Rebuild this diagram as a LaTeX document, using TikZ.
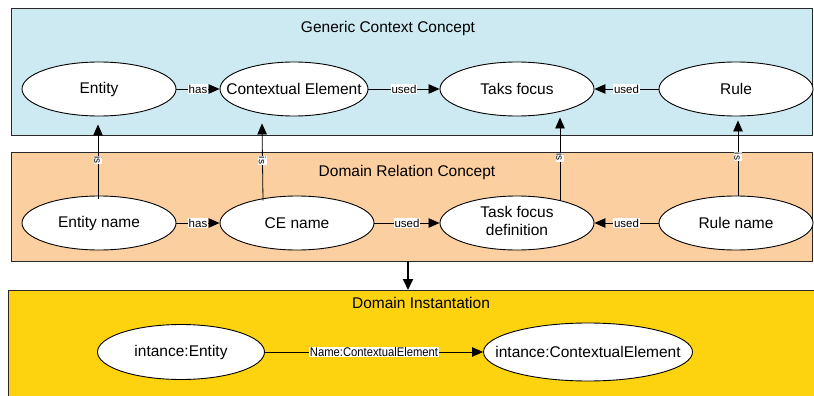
\documentclass[tikz,border=0pt]{standalone}
\usepackage{fontspec}
\setmainfont{Liberation Sans}
\usetikzlibrary{shapes.geometric,arrows.meta,calc}
\definecolor{cblue}{RGB}{205,234,242}
\definecolor{corange}{RGB}{252,207,160}
\definecolor{cyellow}{RGB}{253,211,15}
\definecolor{cline}{RGB}{40,40,40}
\newcommand{\zw}[1]{\makebox[0pt]{#1}}
\begin{document}
\begin{tikzpicture}[x=1pt,y=-1pt,
  panel/.style={draw=cline,line width=1pt},
  concept/.style={ellipse,draw=black,line width=0.9pt,fill=white,minimum width=154pt,minimum height=54pt,inner sep=0pt,font=\fontsize{15.5}{16.5}\selectfont},
  title/.style={font=\fontsize{15.5}{17}\selectfont},
  rel/.style={draw=black,line width=0.8pt,-{Triangle[length=11pt,width=9.5pt]}},
  lbl/.style={fill=white,inner sep=0.6pt,font=\fontsize{11.5}{12}\selectfont},
  islbl/.style={fill=white,inner sep=0.6pt,font=\fontsize{10}{10}\selectfont,rotate=-90}]
\useasboundingbox (0,0) rectangle (814,396);
\begin{scope}
\clip (0,0) rectangle (814,396);
% panels
\draw[panel,fill=cblue] (11,9) rectangle (812,135);
\draw[panel,fill=corange] (11,152) rectangle (812,261);
\draw[panel,fill=cyellow] (8,290) rectangle (830,410);
\end{scope}
\node[title] (t1) at (388,28) {Generic Context Concept};
\node[title] (t2) at (407,172) {Domain Relation Concept};
\node[title] (t3) at (421,303) {Domain Instantation};
% top row
\node[concept] (en) at (99,89) {\zw{Entity}};
\node[concept,minimum width=148pt] (ce) at (294,89) {\zw{Contextual Element}};
\node[concept] (tf) at (517,89) {\zw{Taks focus}};
\node[concept] (ru) at (736,89) {\zw{Rule}};
% middle row
\node[concept] (enn) at (99,223) {\zw{Entity name}};
\node[concept] (cen) at (297,223) {\zw{CE name}};
\node[concept] (tfd) at (517,223) {\zw{\begin{tabular}{@{}c@{}}Task focus\\[2pt]definition\end{tabular}}};
\node[concept] (run) at (736,223) {\zw{Rule name}};
% bottom row
\node[concept,minimum width=167pt,minimum height=55pt] (ie) at (181,352) {\zw{intance:Entity}};
\node[concept,minimum width=209pt,minimum height=58pt] (ice) at (588,352) {\zw{intance:ContextualElement}};
% horizontal relations
\draw[rel] (en) -- node[lbl] {has} (ce);
\draw[rel] (ce) -- node[lbl] {used} (tf);
\draw[rel] (ru) -- node[lbl] {used} (tf);
\draw[rel] (enn) -- node[lbl] {has} (cen);
\draw[rel] (cen) -- node[lbl] {used} (tfd);
\draw[rel] (run) -- node[lbl] {used} (tfd);
% is relations
\draw[rel] ([xshift=-1pt,yshift=-3pt]enn.north) -- node[islbl,pos=0.52] {is} ([xshift=-1pt,yshift=-8pt]en.south);
\draw[rel] ([xshift=-34pt,yshift=-5pt]cen.north) -- node[islbl,pos=0.52] {is} ([xshift=-32pt,yshift=-7pt]ce.south);
\draw[rel] ([xshift=43pt,yshift=-5pt]tfd.north) -- node[islbl,pos=0.52] {is} ([xshift=43pt,yshift=-1pt]tf.south);
\draw[rel] ([xshift=2pt]run.north) -- node[islbl,pos=0.52] {is} ([xshift=2pt,yshift=-4pt]ru.south);
% bottom relation
\draw[rel] (ie) -- node[lbl,font=\fontsize{12.5}{13}\selectfont\addfontfeatures{FakeStretch=0.9},pos=0.5] {Name:ContextualElement} (ice);
% big arrow
\coordinate (a1) at (408,261);
\coordinate (a2) at (408,290);
\draw[line width=1.8pt,-{Triangle[length=11pt,width=10pt]}] (a1) -- (a2);
\end{tikzpicture}
\end{document}
